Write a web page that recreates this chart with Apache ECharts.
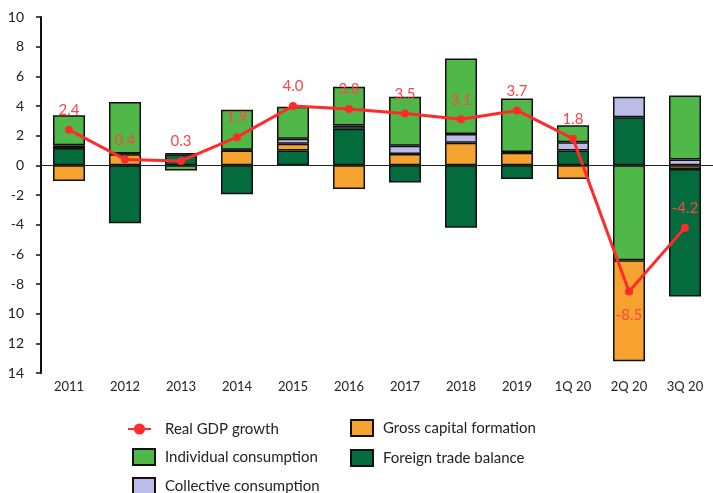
<!DOCTYPE html>
<html>
<head>
<meta charset="utf-8">
<script src="https://cdn.jsdelivr.net/npm/echarts@6/dist/echarts.min.js"></script>
<style>
html,body{margin:0;padding:0;background:#fff;}
#c{width:713px;height:493px;}
</style>
</head>
<body>
<div id="c"></div>
<script>
var categories = ['2011','2012','2013','2014','2015','2016','2017','2018','2019','1Q 20','2Q 20','3Q 20'];
var gdpGrowth = [2.4, 0.4, 0.3, 1.9, 4.0, 3.8, 3.5, 3.1, 3.7, 1.8, -8.5, -4.2];
var individualConsumption = [2.02, 3.47, -0.35, 2.7, 2.15, 2.6, 3.3, 5.1, 3.6, 1.15, -6.4, 4.3];
var collectiveConsumption = [0.18, 0.05, 0.05, 0.05, 0.35, 0.22, 0.56, 0.58, 0.05, 0.55, 1.37, 0.4];
var grossCapitalFormation = [-1.05, 0.75, 0.0, 1.0, 0.45, -1.6, 0.76, 1.53, 0.85, -0.92, -6.8, -0.25];
var foreignTradeBalance = [1.17, -3.9, 0.75, -1.95, 1.0, 2.47, -1.15, -4.2, -0.92, 1.0, 3.25, -8.6];
var yTickValues = [-14, -12, -10, -8, -6, -4, -2, 0, 2, 4, 6, 8, 10];
var yTickLabels = ['14', '12', '10', '-8', '-6', '-4', '-2', '0', '2', '4', '6', '8', '10'];

var C_IND = '#50b848', C_COL = '#bbbde8', C_GCF = '#f5a32e', C_FTB = '#046b3d', C_GDP = '#ff2b2b';

function posPart(a){ return a.map(function(v){ return v > 0 ? v : '-'; }); }
function negPart(a){ return a.map(function(v){ return v < 0 ? v : '-'; }); }

function barSeries(name, data, color){
  return {
    name: name, type: 'bar', stack: 'total', barWidth: 32, data: data,
    itemStyle: {color: color, borderColor: '#111', borderWidth: 1.5},
    emphasis: {disabled: true}
  };
}

var series = [
  barSeries('Foreign trade balance', posPart(foreignTradeBalance), C_FTB),
  barSeries('Gross capital formation', posPart(grossCapitalFormation), C_GCF),
  barSeries('Collective consumption', posPart(collectiveConsumption), C_COL),
  barSeries('Individual consumption', posPart(individualConsumption), C_IND),
  barSeries('Individual consumption', negPart(individualConsumption), C_IND),
  barSeries('Gross capital formation', negPart(grossCapitalFormation), C_GCF),
  barSeries('Foreign trade balance', negPart(foreignTradeBalance), C_FTB)
];
series[0].markLine = {
  silent: true, symbol: ['none','none'], z: 10,
  lineStyle: {color: '#222', width: 1.2, type: 'solid'},
  label: {show: false},
  data: [{yAxis: 0}]
};

var gdpData = gdpGrowth.map(function(v, i){
  if (v < -6) return {value: v, label: {position: 'bottom', distance: 12}};
  return v;
});
series.push({
  name: 'Real GDP growth', type: 'line', data: gdpData, z: 5,
  symbol: 'circle', symbolSize: 8,
  lineStyle: {color: C_GDP, width: 3},
  itemStyle: {color: C_GDP},
  label: {show: true, position: 'top', distance: 8, color: '#ff4545', fontSize: 15, fontFamily: 'Lato',
    formatter: function(p){ return Number(p.value).toFixed(1); }},
  emphasis: {disabled: true}
});

var legendText = {fontSize: 15, color: '#222', fontFamily: 'Lato', lineHeight: 16, padding: [0,0,0,5]};

var option = {
  animation: false,
  backgroundColor: '#fff',
  grid: {left: 41, right: -9, top: 17, bottom: 120, containLabel: false},
  xAxis: {
    type: 'category', data: categories,
    axisLine: {show: false, onZero: false}, axisTick: {show: false},
    axisLabel: {fontSize: 13, color: '#222', fontFamily: 'Lato', margin: 7, interval: 0}
  },
  yAxis: {
    type: 'value', min: -14, max: 10, interval: 2,
    axisLine: {show: true, lineStyle: {color: '#111', width: 2}},
    axisTick: {show: true, length: 5, lineStyle: {color: '#111', width: 1.5}},
    splitLine: {show: false},
    axisLabel: {fontSize: 14, color: '#222', fontFamily: 'Lato', margin: 17,
      formatter: function(v){ var i = yTickValues.indexOf(v); return i >= 0 ? yTickLabels[i] : ''; }}
  },
  legend: [
    {data: ['Real GDP growth'], left: 127, top: 421, padding: 0, itemWidth: 23, itemHeight: 14,
     textStyle: Object.assign({}, legendText, {padding: [0,0,0,9]}), selectedMode: false},
    {data: ['Individual consumption', 'Collective consumption'], orient: 'vertical', left: 132, top: 448,
     padding: 0, height: 60, icon: 'rect', itemWidth: 22, itemHeight: 16, itemGap: 11, textStyle: legendText, selectedMode: false},
    {data: ['Gross capital formation', 'Foreign trade balance'], orient: 'vertical', left: 350, top: 419,
     padding: 0, height: 60, icon: 'rect', itemWidth: 22, itemHeight: 16, itemGap: 12, textStyle: legendText, selectedMode: false}
  ],
  series: series
};

var chart = echarts.init(document.getElementById('c'), null, {renderer: 'canvas'});
chart.setOption(option);
</script>
</body>
</html>
